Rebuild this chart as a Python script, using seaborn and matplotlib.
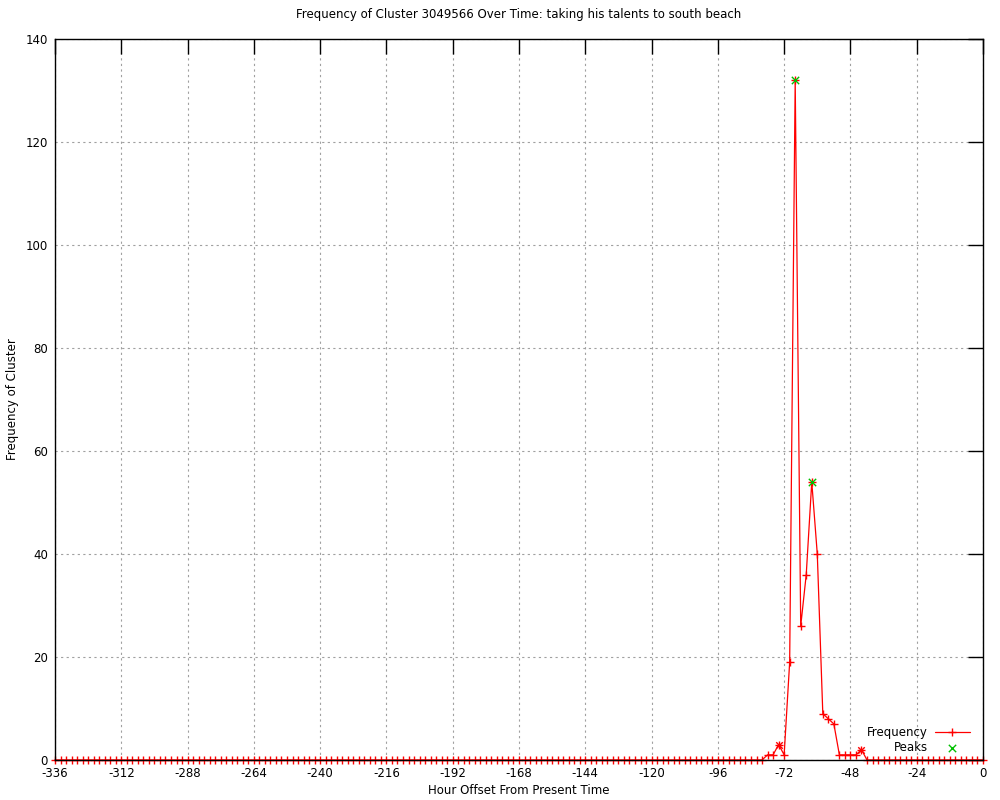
import numpy as np
import pandas as pd
import matplotlib
matplotlib.use("Agg")
import matplotlib.pyplot as plt
import seaborn as sns

# ---- data ----
title = "Frequency of Cluster 3049566 Over Time: taking his talents to south beach"
x_label = "Hour Offset From Present Time"
y_label = "Frequency of Cluster"

# hourly offsets sampled every 2 hours from -336 to 0
hours = list(range(-336, 1, 2))

# non-zero activity window (all other samples are 0)
spike_hours = [-80, -78, -76, -74, -72, -70, -68, -66, -64, -62, -60,
               -58, -56, -54, -52, -50, -48, -46, -44, -42]
spike_values = [0, 1, 1, 3, 1, 19, 132, 26, 36, 54, 40,
                9, 8, 7, 1, 1, 1, 1, 2, 0]

# local bumps drawn with a star-like marker
bump_hours = [-74, -44]
bump_values = [3, 2]

# detected peaks
peak_hours = [-68, -62]
peak_values = [132, 54]

x_ticks = list(range(-336, 1, 24))
y_ticks = list(range(0, 141, 20))

# ---- build frame ----
spike_map = dict(zip(spike_hours, spike_values))
freq = [spike_map.get(h, 0) for h in hours]
df = pd.DataFrame({"hour": hours, "freq": freq})
peaks = pd.DataFrame({"hour": peak_hours, "freq": peak_values})
bumps = pd.DataFrame({"hour": bump_hours, "freq": bump_values})

FS = 8.5
sns.set_style("white")
plt.rcParams["font.family"] = ["DejaVu Sans"]
plt.rcParams["font.size"] = FS
plt.rcParams["text.color"] = "black"
plt.rcParams["axes.labelcolor"] = "black"
plt.rcParams["xtick.color"] = "black"
plt.rcParams["ytick.color"] = "black"

fig = plt.figure(figsize=(10, 8), dpi=100)
ax = fig.add_axes([0.055, 0.05, 0.928, 0.90125])

sns.lineplot(data=df, x="hour", y="freq", ax=ax, color="red", lw=0.9,
             marker="+", markersize=6, markeredgewidth=1.0,
             markeredgecolor="red", estimator=None, label="Frequency",
             zorder=2, clip_on=False)
sns.scatterplot(data=bumps, x="hour", y="freq", ax=ax, color="red",
                marker="x", s=22, linewidth=1.0, legend=False, zorder=4)
sns.scatterplot(data=peaks, x="hour", y="freq", ax=ax, color="#00c000",
                marker="x", s=28, linewidth=1.0, label="Peaks", zorder=5)

ax.set_xlim(-336, 0)
ax.set_ylim(0, 140)
ax.set_xticks(x_ticks)
ax.set_yticks(y_ticks)
ax.set_xticklabels([str(t) for t in x_ticks])
ax.set_yticklabels([str(t) for t in y_ticks])

ax.grid(True, color="#a0a0a0", linestyle=(0, (2, 3)), linewidth=0.8)
ax.set_axisbelow(True)

for s in ax.spines.values():
    s.set_visible(True)
    s.set_color("black")
    s.set_linewidth(1.0)
    s.set_zorder(3)

ax.tick_params(axis="both", which="major", direction="in", length=11,
               width=1.0, color="black", labelcolor="black", top=True,
               right=True, labelsize=FS, pad=5)
ax.tick_params(axis="y", pad=5)

ax.set_title(title, fontsize=FS, pad=15, color="black")
ax.set_xlabel(x_label, fontsize=FS, labelpad=3, color="black")
ax.set_ylabel(y_label, fontsize=FS, labelpad=5, color="black")

leg = ax.legend(loc="lower right", bbox_to_anchor=(0.986, 0.008),
                frameon=False, markerfirst=False, fontsize=FS,
                handlelength=3.0, handletextpad=0.6, labelspacing=0.2,
                borderpad=0, borderaxespad=0)
for t in leg.get_texts():
    t.set_color("black")

fig.savefig("out.png", dpi=100)
